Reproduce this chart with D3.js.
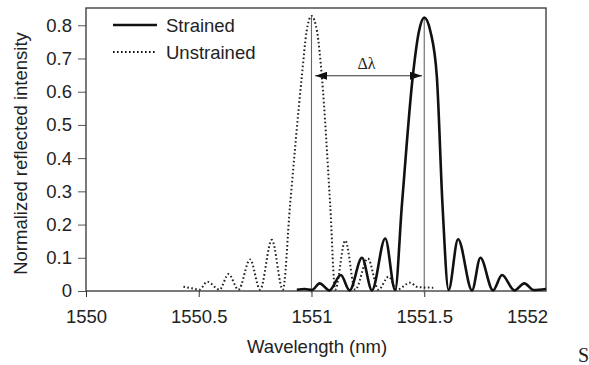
<!DOCTYPE html>
<html>
<head>
<meta charset="utf-8">
<script src="https://cdn.jsdelivr.net/npm/d3@7"></script>
<style>
  body { margin: 0; background: #fff; }
  svg { display: block; }
  text { font-family: "Liberation Sans", Arial, sans-serif; fill: #222; }
</style>
</head>
<body>
<svg id="chart" width="589" height="365"></svg>
<script>
// ======================
// DADES (llegides del gràfic)
// ======================
const strainedWl = [1550.935, 1550.97, 1551.002, 1551.036, 1551.080, 1551.130, 1551.169, 1551.224, 1551.268,
  1551.327, 1551.371, 1551.401, 1551.449, 1551.476, 1551.5, 1551.528, 1551.556, 1551.581, 1551.608,
  1551.650, 1551.712, 1551.749, 1551.805, 1551.845, 1551.900, 1551.944, 1551.985, 1552.04];
const strainedVal = [0.004, 0.006, 0.003, 0.023, 0.002, 0.048, 0.002, 0.100, 0.002,
  0.158, 0.003, 0.259, 0.645, 0.78, 0.823, 0.78, 0.645, 0.259, 0.003,
  0.156, 0.002, 0.100, 0.002, 0.048, 0.002, 0.023, 0.003, 0.006];

const unstrainedWl = [1550.432, 1550.47, 1550.503, 1550.538, 1550.592, 1550.632, 1550.676, 1550.728, 1550.772,
  1550.824, 1550.873, 1550.905, 1550.957, 1550.978, 1551.0, 1551.025, 1551.046, 1551.083, 1551.105,
  1551.150, 1551.194, 1551.250, 1551.297, 1551.342, 1551.379, 1551.438, 1551.47, 1551.54];
const unstrainedVal = [0.013, 0.008, 0.004, 0.028, 0.004, 0.051, 0.004, 0.095, 0.004,
  0.154, 0.004, 0.259, 0.645, 0.78, 0.828, 0.78, 0.645, 0.259, 0.004,
  0.152, 0.004, 0.098, 0.004, 0.043, 0.004, 0.025, 0.012, 0.010];

const xTicks = [1550, 1550.5, 1551, 1551.5, 1552];
const yTicks = [0, 0.1, 0.2, 0.3, 0.4, 0.5, 0.6, 0.7, 0.8];
const legendLabels = ["Strained", "Unstrained"];
const refLines = [{ wl: 1551, top: 0.826 }, { wl: 1551.5, top: 0.82 }];
const deltaArrow = { from: 1551.016, to: 1551.49, level: 0.648, label: "Δλ" };

// ======================
// ESCALES
// ======================
const svg = d3.select("#chart");
const plotLeft = 86, plotRight = 546, plotTop = 8, plotBottom = 291;

const x = d3.scaleLinear().domain([1550, 1552.04]).range([plotLeft, plotRight]);
const y = d3.scaleLinear().domain([0, 0.852]).range([plotBottom, plotTop]);

const toPoints = (wl, val) => wl.map((w, i) => [w, val[i]]);

const line = d3.line()
  .x(d => x(d[0]))
  .y(d => y(d[1]))
  .curve(d3.curveMonotoneX);

// ======================
// EIXOS
// ======================
const yAxis = svg.append("g")
  .attr("transform", `translate(${plotLeft},0)`)
  .call(d3.axisLeft(y).tickValues(yTicks).tickSize(8).tickPadding(6)
    .tickFormat(d => d === 0 ? "0" : d3.format(".1f")(d)));
yAxis.select(".domain").remove();
yAxis.selectAll(".tick line").attr("stroke", "#555");
yAxis.selectAll(".tick text").style("font-size", "18.5px").attr("fill", "#222");

const xAxis = svg.append("g")
  .attr("transform", `translate(0,${plotBottom})`)
  .call(d3.axisBottom(x).tickValues(xTicks).tickSize(6).tickPadding(13)
    .tickFormat(d => String(d)));
xAxis.select(".domain").remove();
xAxis.selectAll(".tick line").attr("stroke", "#333")
  .filter(d => d === 1552).remove();
xAxis.selectAll(".tick text").style("font-size", "18.5px").attr("fill", "#222")
  .attr("dx", d => d === 1552 ? -10 : 0);

// marc
svg.append("rect")
  .attr("x", plotLeft).attr("y", plotTop)
  .attr("width", plotRight - plotLeft).attr("height", plotBottom - plotTop)
  .attr("fill", "none").attr("stroke", "#333").attr("stroke-width", 1.3);

// ======================
// LÍNIES DE REFERÈNCIA
// ======================
svg.selectAll(".ref")
  .data(refLines)
  .enter().append("line")
  .attr("x1", d => x(d.wl)).attr("x2", d => x(d.wl))
  .attr("y1", d => y(d.top)).attr("y2", y(0) + 2)
  .attr("stroke", "#666").attr("stroke-width", 1.1);

// ======================
// CORBES
// ======================
svg.append("path")
  .datum(toPoints(unstrainedWl, unstrainedVal))
  .attr("d", line)
  .attr("fill", "none")
  .attr("stroke", "#222")
  .attr("stroke-width", 2)
  .attr("stroke-dasharray", "1.6,2.4");

svg.append("path")
  .datum(toPoints(strainedWl, strainedVal))
  .attr("d", line)
  .attr("fill", "none")
  .attr("stroke", "#111")
  .attr("stroke-width", 2.6)
  .attr("stroke-linejoin", "round");

// ======================
// FLETXA Δλ
// ======================
const defs = svg.append("defs");
defs.append("marker")
  .attr("id", "arrowhead")
  .attr("viewBox", "0 0 12 8")
  .attr("refX", 12).attr("refY", 4)
  .attr("markerWidth", 12).attr("markerHeight", 8)
  .attr("markerUnits", "userSpaceOnUse")
  .attr("orient", "auto-start-reverse")
  .append("path")
  .attr("d", "M0,0 L12,4 L0,8 Z")
  .attr("fill", "#111");

svg.append("line")
  .attr("x1", x(deltaArrow.from)).attr("x2", x(deltaArrow.to))
  .attr("y1", y(deltaArrow.level)).attr("y2", y(deltaArrow.level))
  .attr("stroke", "#333").attr("stroke-width", 1)
  .attr("marker-start", "url(#arrowhead)")
  .attr("marker-end", "url(#arrowhead)");

svg.append("text")
  .attr("x", (x(deltaArrow.from) + x(deltaArrow.to)) / 2 - 2)
  .attr("y", y(deltaArrow.level) - 7)
  .attr("text-anchor", "middle")
  .style("font-family", "'Liberation Serif', 'Times New Roman', serif")
  .style("font-size", "16px")
  .text(deltaArrow.label);

// ======================
// LLEGENDA
// ======================
const legend = svg.append("g");
legendLabels.forEach((lab, i) => {
  const ly = 25 + i * 27;
  legend.append("line")
    .attr("x1", 113).attr("x2", 157)
    .attr("y1", ly).attr("y2", ly)
    .attr("stroke", "#111")
    .attr("stroke-width", i === 0 ? 2.4 : 2)
    .attr("stroke-dasharray", i === 0 ? null : "1.6,2.4");
  legend.append("text")
    .attr("x", 166).attr("y", ly + 6.5)
    .style("font-size", "18.5px")
    .text(lab);
});

// ======================
// TÍTOLS D'EIXOS
// ======================
svg.append("text")
  .attr("transform", `translate(27,${(plotTop + plotBottom) / 2 + 4}) rotate(-90)`)
  .attr("text-anchor", "middle")
  .style("font-size", "18.5px")
  .text("Normalized reflected intensity");

svg.append("text")
  .attr("x", (plotLeft + plotRight) / 2 + 1)
  .attr("y", 353)
  .attr("text-anchor", "middle")
  .style("font-size", "18.5px")
  .text("Wavelength (nm)");

svg.append("text")
  .attr("x", 578).attr("y", 362)
  .style("font-family", "'Liberation Serif', 'Times New Roman', serif")
  .style("font-size", "20px")
  .text("S");
</script>
</body>
</html>
